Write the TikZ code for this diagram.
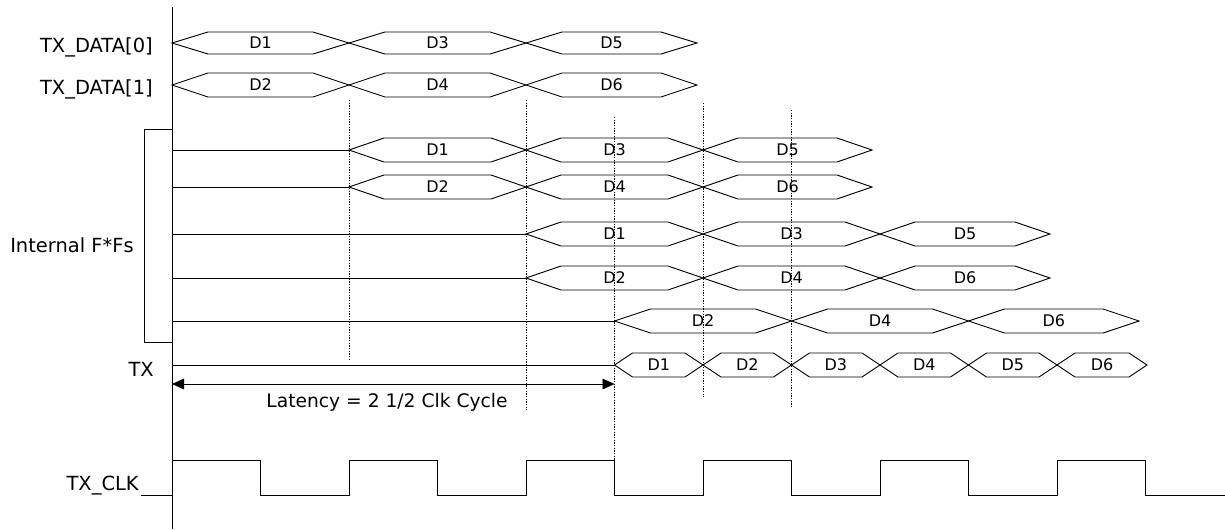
\documentclass[tikz,border=0pt]{standalone}
\usepackage{fontspec}
\setmainfont{DejaVu Sans}
\usetikzlibrary{arrows.meta}
\tikzset{
  sig/.style={line width=0.7pt, line join=miter},
  dotln/.style={line width=0.5pt, dash pattern=on 1pt off 1pt},
  lbl/.style={font=\fontsize{14.6}{16}\selectfont, inner sep=0pt},
  latlbl/.style={font=\fontsize{14}{16}\selectfont, inner sep=0pt},
  dlbl/.style={font=\fontsize{12}{14}\selectfont, inner sep=0pt},
  latarrow/.style={line width=0.7pt, {Triangle[length=9pt,width=8pt]}-{Triangle[length=9pt,width=8pt]}},
}
% a b y slant halfheight label name
\newcommand{\bseg}[7]{%
  \draw[sig] (#1,#3) -- ({#1+#4},{#3-#5}) -- ({#2-#4},{#3-#5}) -- (#2,#3) -- ({#2-#4},{#3+#5}) -- ({#1+#4},{#3+#5}) -- cycle;
  \node[dlbl] (#7) at ({(#1+#2)/2},#3) {#6};}
\begin{document}
\begin{tikzpicture}[x=0.75pt,y=-0.75pt]
\useasboundingbox (0,0) rectangle (1225,529);
% dotted clock-edge guides
\draw[dotln] (349,100) -- (349,360);
\draw[dotln] (526,100) -- (526,410);
\draw[dotln] (614.5,117) -- (614.5,470);
\draw[dotln] (703,103) -- (703,397);
\draw[dotln] (791.5,110) -- (791.5,407);
% axis and bracket
\draw[sig] (172,7) -- (172,529);
\draw[sig] (172,129) -- (144,129) -- (144,342) -- (172,342);
% labels
\node[lbl, anchor=base east] (l0) at (153,52) {TX\_DATA[0]};
\node[lbl, anchor=base east] (l1) at (153,94) {TX\_DATA[1]};
\node[lbl, anchor=base east] (lint) at (134,252) {Internal F*Fs};
\node[lbl, anchor=base east] (ltx) at (154,376) {TX};
\node[lbl, anchor=base east] (lclk) at (139,490) {TX\_CLK};
% TX_DATA rows
\bseg{172}{349}{43}{36}{11}{D1}{a1}
\bseg{349}{526}{43}{36}{11}{D3}{a3}
\bseg{526}{697}{43}{36}{11}{D5}{a5}
\bseg{172}{349}{85}{36}{12}{D2}{b2}
\bseg{349}{526}{85}{36}{12}{D4}{b4}
\bseg{526}{697}{85}{36}{12}{D6}{b6}
% internal row 1
\draw[sig] (172,150) -- (349,150);
\bseg{349}{526}{150}{35}{12}{D1}{c1}
\bseg{526}{703}{150}{35}{12}{D3}{c3}
\bseg{703}{872}{150}{35}{12}{D5}{c5}
% internal row 2
\draw[sig] (172,187) -- (349,187);
\bseg{349}{526}{187}{35}{12}{D2}{d2}
\bseg{526}{703}{187}{35}{12}{D4}{d4}
\bseg{703}{872}{187}{35}{12}{D6}{d6}
% internal row 3
\draw[sig] (172,234) -- (526,234);
\bseg{526}{703}{234}{35}{12}{D1}{e1}
\bseg{703}{880}{234}{35}{12}{D3}{e3}
\bseg{880}{1050}{234}{35}{12}{D5}{e5}
% internal row 4
\draw[sig] (172,278) -- (526,278);
\bseg{526}{703}{278}{35}{12}{D2}{f2}
\bseg{703}{880}{278}{35}{12}{D4}{f4}
\bseg{880}{1050}{278}{35}{12}{D6}{f6}
% internal row 5
\draw[sig] (172,321) -- (614.5,321);
\bseg{614.5}{791.5}{321}{36}{12}{D2}{g2}
\bseg{791.5}{968.5}{321}{36}{12}{D4}{g4}
\bseg{968.5}{1139}{321}{36}{12}{D6}{g6}
% TX row
\draw[sig] (172,365) -- (614.5,365);
\bseg{614.5}{703}{365}{18}{12}{D1}{t1}
\bseg{703}{791.5}{365}{18}{12}{D2}{t2}
\bseg{791.5}{880}{365}{18}{12}{D3}{t3}
\bseg{880}{968.5}{365}{18}{12}{D4}{t4}
\bseg{968.5}{1057}{365}{18}{12}{D5}{t5}
\bseg{1057}{1147}{365}{18}{12}{D6}{t6}
% latency
\coordinate (latL) at (172,384);
\coordinate (latR) at (614.5,384);
\draw[latarrow] (latL) -- (latR);
\node[latlbl, anchor=base] (lat) at (387,407) {Latency = 2 1/2 Clk Cycle};
% clock
\draw[sig] (141,495) -- (172,495) -- (172,460) -- (260.5,460) -- (260.5,495)
  -- (349,495) -- (349,460) -- (437.5,460) -- (437.5,495)
  -- (526,495) -- (526,460) -- (614.5,460) -- (614.5,495)
  -- (703,495) -- (703,460) -- (791.5,460) -- (791.5,495)
  -- (880,495) -- (880,460) -- (968.5,460) -- (968.5,495)
  -- (1057,495) -- (1057,460) -- (1145.5,460) -- (1145.5,495)
  -- (1225,495);
\end{tikzpicture}
\end{document}
